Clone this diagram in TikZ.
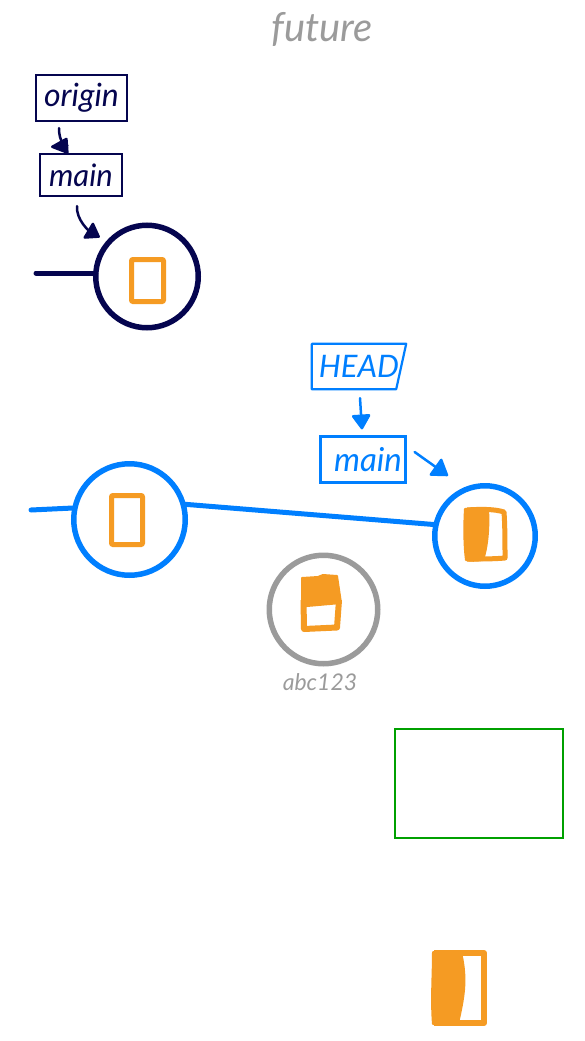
\documentclass[tikz,border=0pt]{standalone}
\usepackage{fontspec}
\setmainfont{Lato}
\usetikzlibrary{arrows.meta,calc}
\definecolor{navyc}{HTML}{05054F}
\definecolor{bluec}{HTML}{007FFF}
\definecolor{grayc}{HTML}{9B9B9B}
\definecolor{orangec}{HTML}{F59B23}
\definecolor{greenc}{HTML}{00A000}
\tikzset{
  x=1pt,y=-1pt,
  hand/.style={font=\itshape\fontsize{#1}{#1}\selectfont,inner sep=0pt},
  labelbox/.style={draw=#1,text=#1,line width=2.2pt,inner sep=0pt,anchor=center},
  ring/.style={circle,draw=#1,line width=5.5pt,fill=white,inner sep=0pt,outer sep=0pt},
  edge/.style={draw=#1,line width=5pt},
  pointer/.style={draw=#1,line width=2.5pt,line cap=round},
  chip/.style={draw=orangec,line width=5pt,rounded corners=1pt,line join=round},
  chipfill/.style={fill=orangec,draw=orangec,line width=2pt,line join=round},
}
\begin{document}
\begin{tikzpicture}
\useasboundingbox (0,0) rectangle (585,1041);
% title
\node[hand=40,text=grayc] (title) at (322,29) {future};

% navy group
\node[labelbox=navyc,minimum width=91pt,minimum height=46pt,hand=32] (origin) at (81.5,98) {origin};
\node[labelbox=navyc,minimum width=82pt,minimum height=42pt,hand=31] (mainA) at (81,175) {main};
\node[ring=navyc,minimum size=102.5pt] (cA) at (147,276.5) {};
\coordinate (tailA) at (36,273);
\draw[edge=navyc,line cap=round] (tailA) -- (cA.west |- tailA);
\draw[pointer=navyc,-{Stealth[length=19pt,width=17pt,inset=0pt,round]}] ($(origin.south)+(-22.5,6)$) .. controls +(0,14) and +(14,-1) .. ($(mainA.north)+(-30,-6)$);
\draw[pointer=navyc,-{Stealth[length=15pt,width=20pt,inset=0pt,round]}] ($(mainA.south)+(-4,9)$) .. controls +(-1,14) and +(-10,-6) .. ($(cA.north west)+(-11,-3)$);
\draw[chip] (131.5,259.5) rectangle (163.5,301.5);

% blue group
\node[minimum width=94pt,minimum height=45pt,inner sep=0pt,hand=31,text=bluec] (head) at (359,366.5) {HEAD};
\draw[bluec,line width=2.2pt,line join=round] (head.north west) -- (head.north east) -- ($(head.south east)+(-10,0)$) -- (head.south west) -- cycle;
\node[labelbox=bluec,minimum width=85pt,minimum height=46pt,hand=33] (mainB) at (363,459.5) {\hspace*{10pt}main};
\node[ring=bluec,minimum size=111.5pt] (cB) at (129.5,519.5) {};
\node[ring=bluec,minimum size=100.5pt] (cC) at (485,536) {};
\coordinate (tailB) at (31,510);
\draw[edge=bluec,line cap=round] (tailB) -- (cB.168);
\draw[edge=bluec] (cB.16) -- (cC.167);
\draw[pointer=bluec,-{Stealth[length=16pt,width=20pt,inset=0pt,round]}] ($(head.south)+(1,9)$) -- ($(mainB.north)+(-1,-6)$);
\draw[pointer=bluec,-{Stealth[length=17pt,width=22pt,inset=0pt,round]}] ($(mainB.east)+(8,-7.5)$) -- ($(cC.north)+(-37,-10)$);
\draw[chip] (111.5,495.5) rectangle (142.5,544.5);
\draw[chipfill] (465,509) .. controls (472,508) and (480,508) .. (488,509) .. controls (489,525) and (488,545) .. (483,560) .. controls (476,561) and (470,561) .. (466,560) .. controls (464,545) and (464,525) .. (465,509) -- cycle;
\draw[orangec,line width=5pt,line join=round] (467,510) .. controls (480,509) and (495,509) .. (504,512) .. controls (505,525) and (505,545) .. (505,558) .. controls (495,559) and (480,559) .. (467,559);

% gray commit
\node[ring=grayc,minimum size=108.5pt] (cD) at (323.5,609.5) {};
\node[hand=23,text=grayc] (abc) at (320,682) {abc123};
\draw[chipfill] (302,578) -- (318,577) -- (323,575) -- (337,576) -- (341,603) -- (307,606) -- (302,607) -- cycle;
\draw[orangec,line width=6pt,line join=round] (303.5,600) -- (304,629) -- (337,627.5) -- (339,600);

% green box
\node[draw=greenc,line width=2pt,minimum width=168pt,minimum height=109pt,inner sep=0pt] (green) at (479,783) {};

% bottom chip
\draw[chipfill] (433,952) -- (461,952) .. controls (466,975) and (466,990) .. (458,1023) -- (433,1024) .. controls (431,1000) and (433,975) .. (433,952) -- cycle;
\draw[orangec,line width=6pt,line join=round] (434,953) -- (484,953) -- (484,1023) -- (434,1023);
\end{tikzpicture}
\end{document}
